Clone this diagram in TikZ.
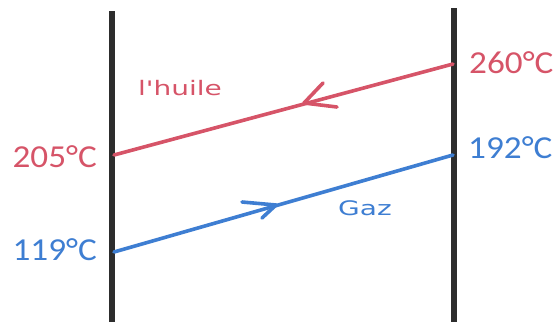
\documentclass[tikz,border=0pt]{standalone}
\usepackage{fontspec}
\setmainfont{Carlito}
\newfontfamily\labfont{DejaVu Sans}
\definecolor{oilred}{RGB}{214,84,104}
\definecolor{gasblue}{RGB}{62,126,210}
\definecolor{wallgray}{RGB}{45,45,45}
\begin{document}
\begin{tikzpicture}[x=1pt,y=-1pt,
  wall/.style={draw=wallgray,line width=6pt},
  oil/.style={draw=oilred,line width=3.6pt,line cap=round,line join=round},
  gas/.style={draw=gasblue,line width=3.6pt,line cap=round,line join=round},
  temp/.style={font=\fontsize{32}{34}\selectfont,inner sep=0pt,xscale=1.1,transform shape},
  flowlab/.style={font=\labfont\fontsize{20}{22}\selectfont,inner sep=0pt,xscale=1.4,transform shape}]
\useasboundingbox (0,0) rectangle (559,322);
% walls
\coordinate (LT) at (112,11);
\coordinate (LB) at (112,322);
\coordinate (RT) at (454,8);
\coordinate (RB) at (454,322);
\draw[wall] (LT) -- (LB);
\draw[wall] (RT) -- (RB);
% oil line
\coordinate (oilin) at (453,64);
\coordinate (oilout) at (114,155);
\draw[oil] (oilin) -- (oilout);
\coordinate (otip) at (304,103);
\coordinate (oa1) at (323,83);
\coordinate (oa2) at (337,107);
\draw[oil] (oa1) -- (otip) -- (oa2);
% gas line
\coordinate (gasin) at (114,252);
\coordinate (gasout) at (453,155);
\draw[gas] (gasin) -- (gasout);
\coordinate (gtip) at (276,205);
\coordinate (ga1) at (242,202);
\coordinate (ga2) at (262,218);
\draw[gas] (ga1) -- (gtip) -- (ga2);
% labels
\node[temp,text=oilred,anchor=east] (t205) at (97,157) {205°C};
\node[temp,text=gasblue,anchor=east] (t119) at (97,250) {119°C};
\node[temp,text=oilred,anchor=west] (t260) at (469,63) {260°C};
\node[temp,text=gasblue,anchor=west] (t192) at (468,148) {192°C};
\node[flowlab,text=oilred] (huile) at (180,88) {l'huile};
\node[flowlab,text=gasblue] (gaz) at (365,208) {Gaz};
\end{tikzpicture}
\end{document}
